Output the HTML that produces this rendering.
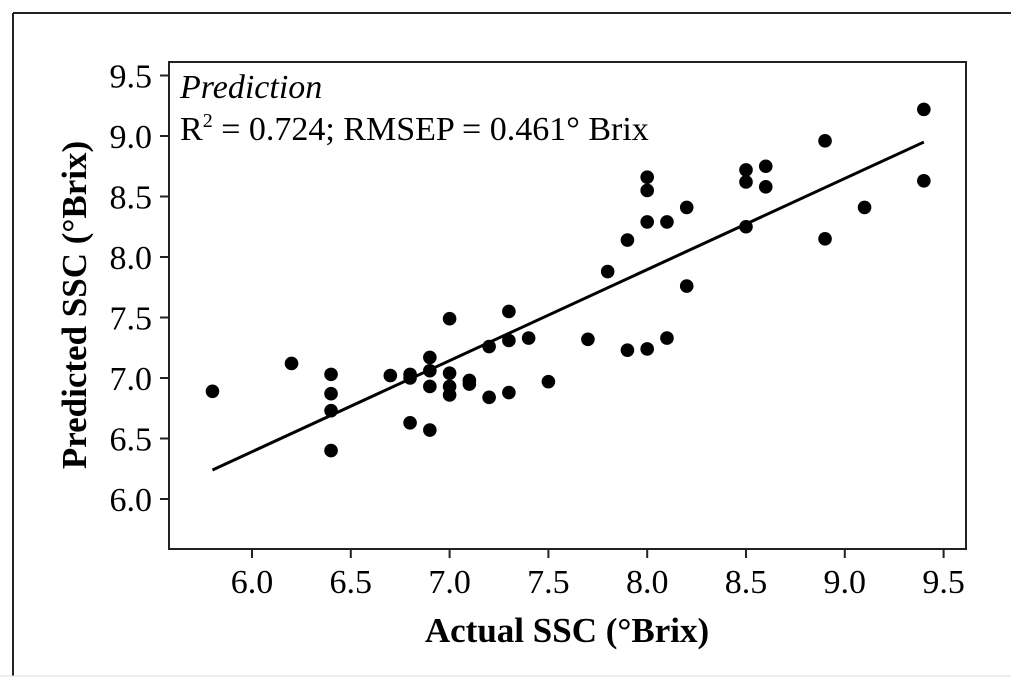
<!DOCTYPE html>
<html><head><meta charset="utf-8"><style>
body{margin:0;background:#fff}
svg{display:block;font-family:"Liberation Serif",serif}
</style></head><body>
<svg width="1024" height="689" viewBox="0 0 1024 689">
<g id="frame">
<line x1="13" y1="13" x2="1011" y2="13" stroke="#222" stroke-width="2"/>
<line x1="13" y1="13" x2="13" y2="676" stroke="#222" stroke-width="2"/>
<line x1="0" y1="676" x2="1011" y2="676" stroke="#ddd" stroke-width="1"/>
</g>
<rect x="169" y="62" width="797" height="487" fill="none" stroke="#222" stroke-width="2"/>
<g id="xt"></g>
<g id="yt"></g>
<g id="pts"></g>
<g id="fit"></g>
<text x="180" y="98" font-size="34" font-style="italic">Prediction</text>
<text x="180" y="140" font-size="34">R<tspan dy="-13" font-size="20">2</tspan><tspan dy="13"> = 0.724; RMSEP = 0.461° Brix</tspan></text>
<text x="567" y="642" font-size="35" font-weight="bold" text-anchor="middle">Actual SSC (°Brix)</text>
<text transform="translate(86,305) rotate(-90)" font-size="35" font-weight="bold" text-anchor="middle">Predicted SSC (°Brix)</text>
</svg>
<script>
const xTicks=["6.0","6.5","7.0","7.5","8.0","8.5","9.0","9.5"];
const yTicks=["6.0","6.5","7.0","7.5","8.0","8.5","9.0","9.5"];
const actual=[5.8,6.2,6.4,6.4,6.4,6.4,6.7,6.8,6.8,6.8,6.9,6.9,6.9,6.9,7.0,7.0,7.0,7.0,7.1,7.1,7.2,7.2,7.3,7.3,7.3,7.4,7.5,7.7,7.8,7.9,7.9,8.0,8.0,8.0,8.0,8.1,8.1,8.2,8.2,8.5,8.5,8.5,8.6,8.6,8.9,8.9,9.1,9.4,9.4];
const predicted=[6.89,7.12,7.03,6.87,6.73,6.40,7.02,7.03,7.00,6.63,7.17,7.06,6.93,6.57,7.49,7.04,6.93,6.86,6.98,6.95,7.26,6.84,7.55,7.31,6.88,7.33,6.97,7.32,7.88,8.14,7.23,8.66,8.55,8.29,7.24,8.29,7.33,8.41,7.76,8.72,8.62,8.25,8.75,8.58,8.96,8.15,8.41,9.22,8.63];
const fitX=[5.8,9.4];
const fitY=[6.24,8.95];
const NS="http://www.w3.org/2000/svg";
const sx=v=>252+(v-6)*197.6;
const sy=v=>499-(v-6)*121;
function mk(t,a,p){const e=document.createElementNS(NS,t);for(const k in a)e.setAttribute(k,a[k]);p.appendChild(e);return e;}
const xt=document.getElementById('xt'),yt=document.getElementById('yt');
xTicks.forEach(t=>{const x=sx(+t);
const l=mk('line',{x1:x,y1:549,x2:x,y2:558,stroke:'#222','stroke-width':2},xt);


const tx=mk('text',{x:x,y:593,'font-size':34,'text-anchor':'middle'},xt);tx.textContent=t;

});
yTicks.forEach(t=>{const y=sy(+t);
const l=mk('line',{x1:160,y1:y,x2:169,y2:y,stroke:'#222','stroke-width':2},yt);


const tx=mk('text',{x:152,y:y+12,'font-size':34,'text-anchor':'end'},yt);tx.textContent=t;

});
const pts=document.getElementById('pts');
actual.forEach((a,i)=>{const c=mk('circle',{cx:sx(a),cy:sy(predicted[i]),r:6.8,fill:'#000'},pts);

});
const ln=mk('line',{x1:sx(fitX[0]),y1:sy(fitY[0]),x2:sx(fitX[1]),y2:sy(fitY[1]),stroke:'#000','stroke-width':3},document.getElementById('fit'));


</script>
</body></html>
